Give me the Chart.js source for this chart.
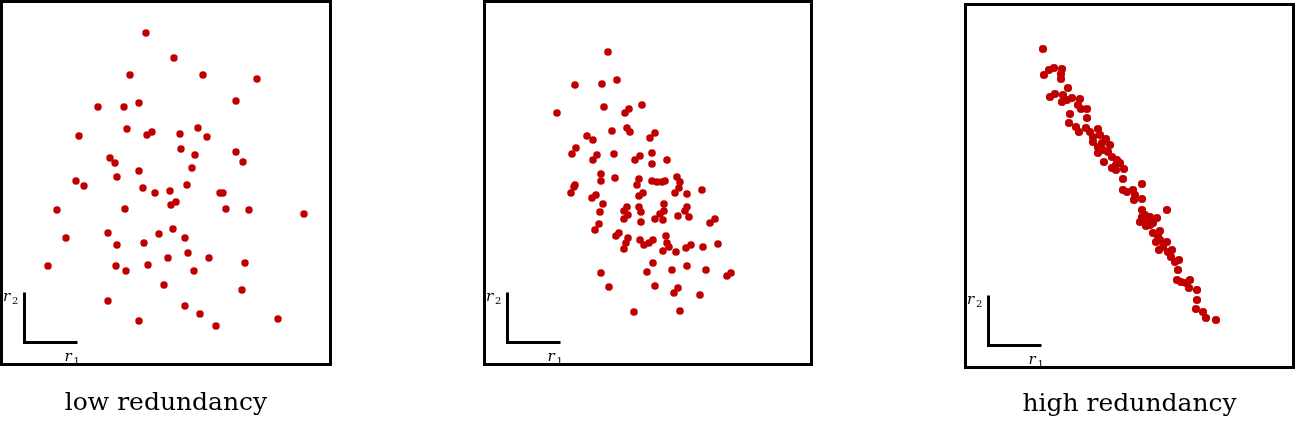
<!DOCTYPE html>
<html>
<head>
<meta charset="utf-8">
<script src="https://cdn.jsdelivr.net/npm/chart.js@4"></script>
<style>
  html, body { margin: 0; padding: 0; background: #fff; }
  body { width: 1296px; height: 421px; position: relative; overflow: hidden; }
  .panel { position: absolute; }
</style>
</head>
<body>
<div class="panel" id="p1" style="left:0px;top:0px;width:332px;height:421px"><canvas id="c1"></canvas></div>
<div class="panel" id="p2" style="left:483px;top:0px;width:330px;height:421px"><canvas id="c2"></canvas></div>
<div class="panel" id="p3" style="left:964px;top:3px;width:331px;height:418px"><canvas id="c3"></canvas></div>
<script>
// [r1, r2] pairs
const lowPoints = [
    [146,333],[174,308],[130,291],[203,291],[257,287],[236,265],[98,259],[124,259],
    [139,263],[79,230],[127,237],[147,231],[152,234],[180,232],[198,238],[207,229],
    [181,217],[195,211],[236,214],[243,204],[110,208],[115,203],[192,198],[139,195],
    [117,189],[76,185],[84,180],[143,178],[155,173],[170,175],[187,181],[220,173],
    [223,173],[57,156],[125,157],[171,161],[176,164],[226,157],[249,156],[304,152],
    [66,128],[108,133],[117,121],[144,123],[159,132],[173,137],[185,128],[188,113],
    [168,108],[209,108],[245,103],[48,100],[116,100],[126,95],[148,101],[194,95],
    [164,81],[242,76],[108,65],[185,60],[200,52],[139,45],[216,40],[278,47]
];

const midPoints = [
    [125,314],[92,281],[119,282],[134,286],[74,253],[121,259],[142,253],[146,257],
    [159,261],[104,230],[110,226],[129,235],[144,238],[147,234],[167,228],[172,233],
    [93,218],[89,212],[110,206],[114,211],[131,212],[152,206],[157,210],[169,213],
    [169,202],[184,206],[118,192],[132,188],[118,185],[156,187],[169,185],[179,184],
    [182,185],[194,189],[197,184],[92,181],[154,181],[174,184],[196,178],[91,179],
    [88,173],[113,171],[109,168],[160,173],[156,170],[192,173],[204,172],[219,176],
    [120,162],[117,154],[144,159],[141,155],[145,151],[141,147],[156,159],[158,154],
    [181,162],[181,155],[177,152],[180,146],[172,147],[158,144],[195,150],[204,159],
    [202,155],[206,149],[232,147],[227,143],[116,142],[112,136],[136,133],[133,130],
    [145,128],[143,123],[141,117],[157,126],[161,121],[166,123],[170,126],[183,130],
    [184,123],[186,119],[180,115],[193,114],[203,118],[208,121],[220,119],[235,122],
    [170,103],[164,94],[189,96],[204,100],[223,96],[244,90],[248,93],[118,93],
    [126,79],[172,80],[191,73],[195,78],[217,71],[151,54],[197,55]
];

const highPoints = [
    [79,320],[80,294],[85,299],[90,301],[98,300],[97,295],[97,290],[86,272],
    [91,275],[104,281],[99,274],[98,267],[103,269],[108,271],[116,270],[114,264],
    [117,260],[123,260],[106,255],[123,251],[105,246],[112,242],[115,237],[122,241],
    [126,237],[129,232],[134,240],[142,230],[129,227],[134,222],[138,226],[139,219],
    [144,217],[134,216],[136,234],[146,224],[140,207],[148,212],[153,209],[152,204],
    [156,206],[148,201],[152,199],[160,200],[159,190],[178,185],[159,179],[163,177],
    [169,179],[171,174],[170,169],[178,170],[203,159],[178,159],[178,152],[176,147],
    [181,154],[186,152],[184,147],[189,146],[193,151],[182,143],[186,144],[196,138],
    [189,136],[194,133],[192,127],[196,129],[195,119],[199,122],[203,127],[204,117],
    [208,119],[207,112],[211,107],[215,109],[214,99],[213,89],[217,87],[222,86],
    [226,89],[225,81],[233,79],[233,69],[232,60],[239,57],[242,51],[252,49]
];

const panelTitles = ['low redundancy', '', 'high redundancy'];
const pointColor = '#c00000';

// frame round the plot and the little r1/r2 axes sign
const framePlugin = {
    id: 'frame',
    beforeDatasetsDraw(chart){
        const a = chart.chartArea;
        const ctx = chart.ctx;
        ctx.save();
        ctx.strokeStyle = '#000';
        ctx.lineWidth = 3;
        ctx.strokeRect(a.left + 1.5, a.top + 1.5, a.right - a.left - 3, a.bottom - a.top - 3);

        const ox = a.left + 24.5;
        const oy = a.bottom - 23.5;
        ctx.beginPath();
        ctx.moveTo(ox, oy - 50);
        ctx.lineTo(ox, oy);
        ctx.lineTo(ox + 53, oy);
        ctx.lineCap = 'butt';
        ctx.lineJoin = 'miter';
        ctx.stroke();

        ctx.fillStyle = '#000';
        ctx.textBaseline = 'alphabetic';
        ctx.textAlign = 'left';
        ctx.font = 'italic 15px "DejaVu Serif"';
        ctx.fillText('r', a.left + 3, oy - 42);
        ctx.fillText('r', ox + 40, oy + 18);
        ctx.font = '10px "DejaVu Serif"';
        ctx.fillText('2', a.left + 12, oy - 39);
        ctx.fillText('1', ox + 49, oy + 21);
        ctx.restore();
    }
};

function makeChart(id, points, title, width, titlePad, radius){
    const ctx = document.querySelector(id).getContext('2d');
    return new Chart(ctx, {
        type: 'scatter',
        data: {
            datasets: [{
                data: points.map(p => ({x: p[0], y: p[1]})),
                backgroundColor: pointColor,
                borderColor: pointColor,
                borderWidth: 0,
                pointRadius: radius,
                pointHoverRadius: radius
            }]
        },
        options: {
            responsive: true,
            maintainAspectRatio: false,
            animation: false,
            events: [],
            layout: {
                padding: 0,
                autoPadding: false
            },
            plugins: {
                legend: { display: false },
                tooltip: { enabled: false },
                title: {
                    display: true,
                    text: title,
                    position: 'bottom',
                    color: '#000',
                    font: { family: '"DejaVu Serif"', size: 25, weight: 'normal', lineHeight: 1.2 },
                    padding: titlePad
                }
            },
            scales: {
                x: { type: 'linear', min: 0, max: width, display: false },
                y: { type: 'linear', min: 0, max: 366, display: false }
            }
        },
        plugins: [framePlugin]
    });
}

makeChart('#c1', lowPoints, panelTitles[0], 332, {top: 22, bottom: 3}, 3.7);
makeChart('#c2', midPoints, panelTitles[1], 330, {top: 22, bottom: 3}, 3.8);
makeChart('#c3', highPoints, panelTitles[2], 331, {top: 20, bottom: 2}, 4.1);
</script>
</body>
</html>
